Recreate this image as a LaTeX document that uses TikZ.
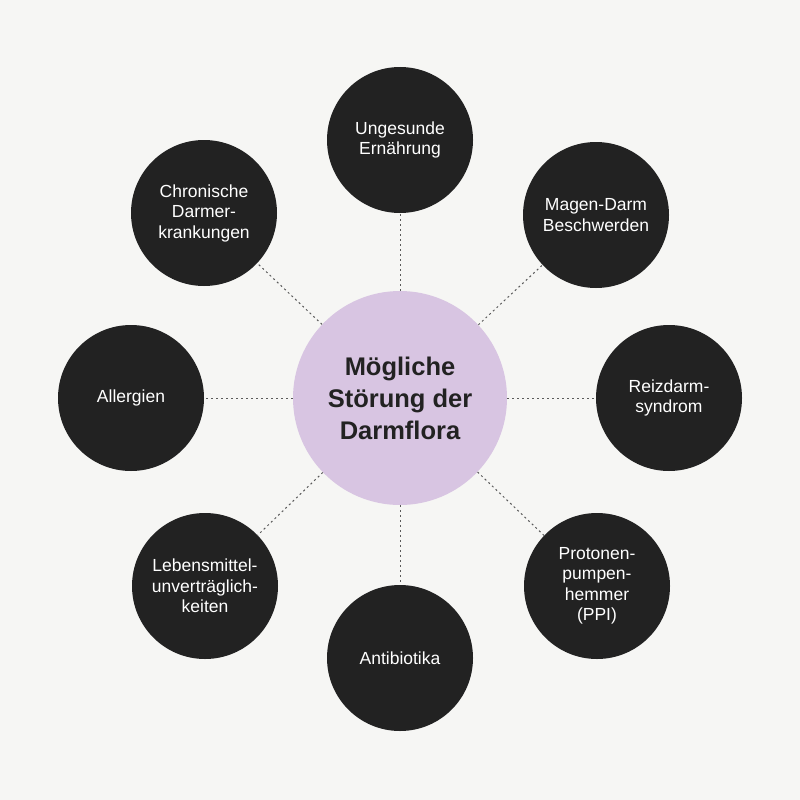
\documentclass[tikz,border=0pt]{standalone}
\usepackage{fontspec}
\setmainfont{Liberation Sans}
\definecolor{bgc}{HTML}{F6F6F4}
\definecolor{darkc}{HTML}{222222}
\definecolor{lilac}{HTML}{D8C5E2}
\definecolor{linec}{HTML}{5A5A5A}
\begin{document}
\begin{tikzpicture}[x=1pt,y=-1pt,
  outer/.style={circle,fill=darkc,minimum size=146pt,inner sep=0pt,align=center,text=white,font=\fontsize{17.5}{20.5}\selectfont},
  hub/.style={circle,fill=lilac,minimum size=214pt,inner sep=0pt,align=center,text=darkc,font=\fontsize{25.5}{32}\selectfont\bfseries},
  link/.style={draw=linec,line width=1pt,dash pattern=on 2pt off 3pt}]
\fill[bgc] (0,0) rectangle (800,800);
\useasboundingbox (0,0) rectangle (800,800);
\node[hub] (c) at (400,398) {Mögliche\\Störung der\\Darmflora};
\node[outer] (n1) at (400,140) {Ungesunde\\Ernährung};
\node[outer] (n2) at (596,215) {Magen-Darm\\Beschwerden};
\node[outer] (n3) at (669,398) {Reizdarm-\\syndrom};
\node[outer] (n4) at (597,586) {Protonen-\\pumpen-\\hemmer\\(PPI)};
\node[outer] (n5) at (400,658) {Antibiotika};
\node[outer] (n6) at (205,586) {Lebensmittel-\\unverträglich-\\keiten};
\node[outer] (n7) at (131,398) {Allergien};
\node[outer] (n8) at (204,213) {Chronische\\Darmer-\\krankungen};
\foreach \n in {n1,n2,n3,n4,n5,n6,n7,n8}{\draw[link] (c) -- (\n);}
\end{tikzpicture}
\end{document}
